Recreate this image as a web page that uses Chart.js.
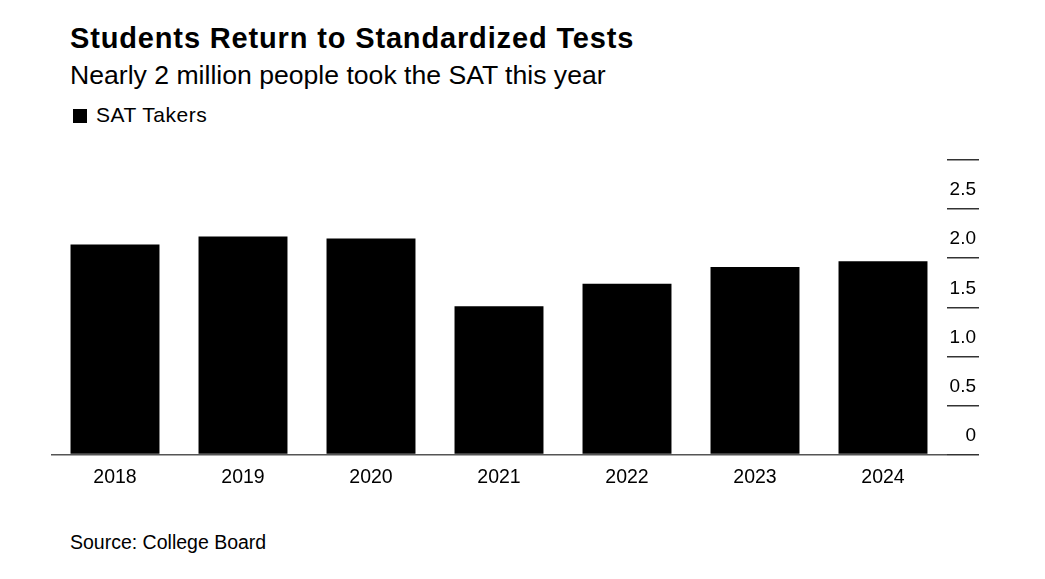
<!DOCTYPE html>
<html>
<head>
<meta charset="utf-8">
<script src="https://cdn.jsdelivr.net/npm/chart.js@4"></script>
<style>
  html, body { margin: 0; padding: 0; background: #fff; }
  body { width: 1045px; height: 579px; position: relative; overflow: hidden; font-family: "Liberation Sans", Arial, sans-serif; color: #000; }
  .txt { position: absolute; left: 70px; line-height: 1; white-space: nowrap; }
  #title { top: 24px; font-size: 29px; font-weight: bold; letter-spacing: 0.85px; }
  #subtitle { top: 62px; font-size: 26.6px; }
  #legend { top: 104px; font-size: 21px; left: 73px; letter-spacing: 0.5px; }
  #legend span.box { display: inline-block; width: 14px; height: 14px; background: #000; margin-right: 9px; vertical-align: -1px; }
  #source { top: 533px; font-size: 19.5px; }
  #chartWrap { position: absolute; left: 0; top: 0; width: 1045px; height: 579px; }
</style>
</head>
<body>
<div id="title" class="txt">Students Return to Standardized Tests</div>
<div id="subtitle" class="txt">Nearly 2 million people took the SAT this year</div>
<div id="legend" class="txt"><span class="box"></span>SAT Takers</div>
<div id="source" class="txt">Source: College Board</div>
<div id="chartWrap"><canvas id="chart" width="1045" height="579"></canvas></div>
<script>
const years = ["2018", "2019", "2020", "2021", "2022", "2023", "2024"];
const takers = [2.14, 2.22, 2.20, 1.51, 1.74, 1.91, 1.97]; // millions
const yTicks = [0, 0.5, 1.0, 1.5, 2.0, 2.5, 3.0];

new Chart(document.getElementById("chart"), {
    type: "bar",
    data: {
        labels: years,
        datasets: [{
            label: "SAT Takers",
            data: takers,
            backgroundColor: "#000",
            borderWidth: 0,
            categoryPercentage: 1.0,
            barPercentage: 0.695
        }]
    },
    options: {
        responsive: false,
        animation: false,
        layout: { padding: { left: 51, right: 66, top: 160, bottom: 87 } },
        plugins: { legend: { display: false }, tooltip: { enabled: false } },
        scales: {
            x: {
                grid: { display: false },
                border: { display: false },
                ticks: {
                    color: "#000",
                    padding: 3,
                    font: { family: "Liberation Sans", size: 19.5 }
                }
            },
            y: {
                position: "right",
                min: 0,
                max: 3,
                afterBuildTicks: scale => { scale.ticks = yTicks.map(v => ({ value: v })); },
                afterFit: scale => { scale.width = 32; },
                border: { display: false },
                grid: {
                    drawOnChartArea: true,
                    color: ctx => ctx.tick && ctx.tick.value === 0 ? "#555" : "rgba(0,0,0,0)",
                    tickColor: "#333",
                    tickLength: 32,
                    lineWidth: 1.5
                },
                ticks: {
                    mirror: true,
                    padding: 29,
                    labelOffset: -19,
                    color: "#000",
                    font: { family: "Liberation Sans", size: 19 },
                    callback: v => v === 0 ? "0" : v === 3 ? "" : v.toFixed(1)
                }
            }
        }
    }
});
</script>
</body>
</html>
